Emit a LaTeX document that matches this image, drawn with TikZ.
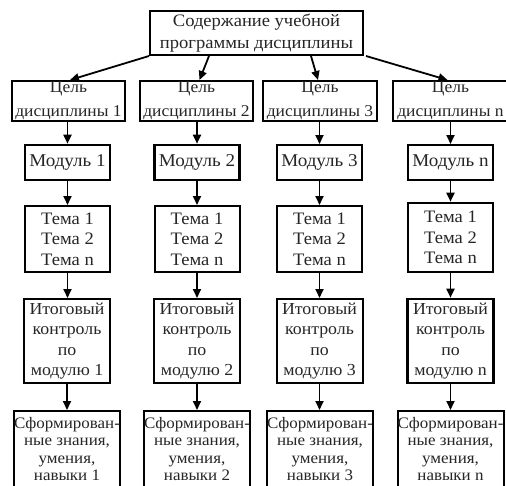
\documentclass[tikz,border=0pt]{standalone}
\usepackage{fontspec}
\setmainfont{Liberation Serif}[FakeStretch=1.06]
\usetikzlibrary{arrows.meta}
\newcommand\cl[1]{\makebox[0pt]{#1}}
\tikzset{
  box/.style={draw=black, line width=2pt, inner sep=0pt, align=center, text=black!85},
  thickbox/.style={box, line width=2.6pt},
  arr/.style={-{Triangle[length=9pt,width=8pt]}, line width=1.8pt, draw=black},
}
\begin{document}
\begin{tikzpicture}[x=1pt,y=-1pt]
\useasboundingbox[fill=white] (0,0) rectangle (506,485);
% top
\node[box, minimum width=213pt, minimum height=44pt, font=\fontsize{17.5}{22}\selectfont] (top) at (256.5,33)
  {\cl{Содержание учебной}\\\cl{программы дисциплины}};
% goals
\begin{scope}[every node/.append style={minimum height=40pt, font=\fontsize{16.5}{24}\selectfont}]
\node[box, minimum width=113pt] (g1) at (68.5,101) {\cl{Цель}\\\cl{дисциплины 1}};
\node[box, minimum width=113pt] (g2) at (196.5,101) {\cl{Цель}\\\cl{дисциплины 2}};
\node[box, minimum width=114pt] (g3) at (320,101) {\cl{Цель}\\\cl{дисциплины 3}};
\node[box, minimum width=115pt] (g4) at (450.5,101) {\cl{Цель}\\\cl{дисциплины n}};
\end{scope}
% modules
\begin{scope}[every node/.append style={minimum width=85pt, minimum height=35pt, font=\fontsize{18}{20}\selectfont}]
\node[thickbox] (m1) at (67.5,162.5) {Модуль 1};
\node[thickbox] (m2) at (197,162.5) {Модуль 2};
\node[box] (m3) at (319.5,162.5) {Модуль 3};
\node[box] (m4) at (450.5,162.5) {Модуль n};
\end{scope}
% themes
\begin{scope}[every node/.append style={minimum width=85pt, font=\fontsize{17.5}{20.5}\selectfont}]
\node[box, minimum height=66pt] (t1) at (67.5,239) {Тема 1\\Тема 2\\Тема n};
\node[box, minimum height=66pt] (t2) at (197,239) {Тема 1\\Тема 2\\Тема n};
\node[box, minimum height=66pt] (t3) at (319.5,239) {Тема 1\\Тема 2\\Тема n};
\node[thickbox, minimum height=69pt] (t4) at (450.5,237.5) {Тема 1\\Тема 2\\Тема n};
\end{scope}
% final control
\begin{scope}[every node/.append style={minimum width=86pt, minimum height=84pt, font=\fontsize{16.8}{20.5}\selectfont}]
\node[box] (k1) at (67,341) {\cl{Итоговый}\\\cl{контроль}\\\cl{по}\\\cl{модулю 1}};
\node[box] (k2) at (197,341) {\cl{Итоговый}\\\cl{контроль}\\\cl{по}\\\cl{модулю 2}};
\node[box] (k3) at (319.5,341) {\cl{Итоговый}\\\cl{контроль}\\\cl{по}\\\cl{модулю 3}};
\node[thickbox] (k4) at (450.5,341) {\cl{Итоговый}\\\cl{контроль}\\\cl{по}\\\cl{модулю n}};
\end{scope}
% results
\begin{scope}[every node/.append style={minimum width=106pt, minimum height=76pt, font=\fontsize{16}{17.5}\selectfont}]
\node[box] (r1) at (67,449) {\cl{Сформирован-}\\\cl{ные знания,}\\\cl{умения,}\\\cl{навыки 1}};
\node[box] (r2) at (197,449) {\cl{Сформирован-}\\\cl{ные знания,}\\\cl{умения,}\\\cl{навыки 2}};
\node[box] (r3) at (320,449) {\cl{Сформирован-}\\\cl{ные знания,}\\\cl{умения,}\\\cl{навыки 3}};
\node[box] (r4) at (450.5,449) {\cl{Сформирован-}\\\cl{ные знания,}\\\cl{умения,}\\\cl{навыки n}};
\end{scope}
% arrows from top
\draw[arr] (top.south west) -- (g1.north -| 70,0);
\draw[arr] ([xshift=60pt]top.south west) -- ([xshift=3pt]g2.north);
\draw[arr] ([xshift=-53pt]top.south east) -- ([xshift=-2pt]g3.north);
\draw[arr] ([xshift=2pt]top.south east) -- ([xshift=-3pt]g4.north);
% vertical arrows
\foreach \i in {1,2,3,4}{
  \draw[arr] (g\i.south -| m\i.center) -- (m\i.north);
  \draw[arr] (m\i.south) -- (t\i.north);
  \draw[arr] (t\i.south) -- (k\i.north -| t\i.center);
  \draw[arr] (k\i.south) -- (r\i.north -| k\i.center);
}
\end{tikzpicture}
\end{document}
